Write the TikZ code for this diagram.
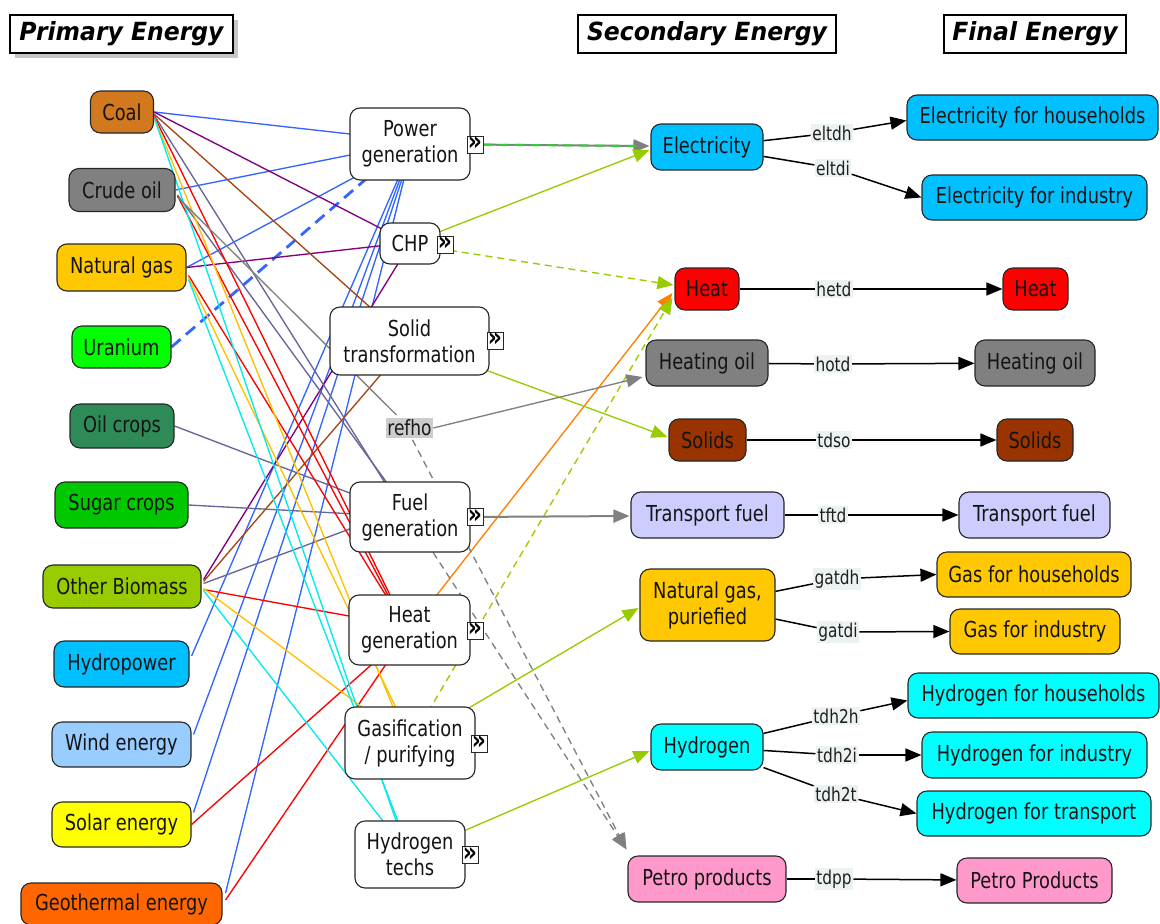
\documentclass[tikz,border=0pt]{standalone}
\usepackage{fontspec}
\setmainfont[FakeStretch=0.81]{DejaVu Sans}
\newfontfamily\hdrfont[FakeStretch=0.94]{DejaVu Sans}
\usetikzlibrary{arrows.meta,calc,backgrounds,shadows}
\definecolor{cCoal}{RGB}{210,120,30}
\definecolor{cCrude}{RGB}{128,128,128}
\definecolor{cNgas}{RGB}{255,200,0}
\definecolor{cUran}{RGB}{0,255,0}
\definecolor{cOilc}{RGB}{46,139,87}
\definecolor{cSugar}{RGB}{0,200,0}
\definecolor{cObio}{RGB}{153,204,0}
\definecolor{cHydro}{RGB}{0,192,255}
\definecolor{cWind}{RGB}{153,204,255}
\definecolor{cSolar}{RGB}{255,255,0}
\definecolor{cGeo}{RGB}{255,102,0}
\definecolor{cHeatN}{RGB}{255,0,0}
\definecolor{cSolids}{RGB}{153,51,0}
\definecolor{cTfuel}{RGB}{204,204,255}
\definecolor{cHyd}{RGB}{0,255,255}
\definecolor{cPetro}{RGB}{255,153,204}
\definecolor{cPow}{RGB}{51,102,255}
\definecolor{cChp}{RGB}{128,0,128}
\definecolor{cSol}{RGB}{165,70,20}
\definecolor{cFuel}{RGB}{102,102,153}
\definecolor{cHeatL}{RGB}{255,0,0}
\definecolor{cGas}{RGB}{255,192,0}
\definecolor{cH2}{RGB}{0,235,235}
\definecolor{cRef}{RGB}{128,128,128}
\definecolor{cOut}{RGB}{153,204,0}
\definecolor{cOrange}{RGB}{255,128,0}
\definecolor{cGreen}{RGB}{51,204,51}
\definecolor{lblbg}{RGB}{236,242,242}
\definecolor{refbg}{RGB}{204,204,204}
\tikzset{
  base/.style={draw=black!85, line width=1.1pt, rounded corners=10pt, font=\fontsize{22}{26}\selectfont, inner sep=2pt, text=black!92},
  prim/.style={base, fill=#1},
  proc/.style={base, fill=white, align=center},
  icon/.style={draw=black!85, fill=white, line width=0.9pt, minimum width=16pt, minimum height=17pt, inner sep=0pt, font=\fontsize{27}{27}\selectfont\bfseries},
  lbl/.style={fill=lblbg, inner sep=1.5pt, font=\fontsize{19}{21}\selectfont, text=black!88},
  hdr/.style={draw=black, line width=1.2pt, fill=white, font=\hdrfont\fontsize{25}{28}\selectfont\bfseries\itshape, inner sep=2pt, minimum height=38pt},
  feed/.style={line width=1.35pt},
  fin/.style={draw=black, line width=1.5pt},
  tip/.style={-{Triangle[length=16pt,width=13pt]}},
  dsh/.style={dash pattern=on 7pt off 5pt},
}
\newcommand{\chev}{\raisebox{1.5pt}{»}}
\begin{document}
\begin{tikzpicture}[x=1pt,y=-1pt]
\useasboundingbox (0,0) rectangle (1160,924);
% headers
\node[hdr, drop shadow={shadow xshift=5pt, shadow yshift=-5pt, fill=black!22, opacity=1}, minimum width=223pt] (hp) at (121.5,34) {Primary Energy};
\node[hdr, minimum width=258pt] (hs) at (707,34) {Secondary Energy};
\node[hdr, minimum width=182pt] (hf) at (1035,34) {Final Energy};
% primary
\node[prim=cCoal, minimum width=63pt, minimum height=42pt] (coal) at (122,112) {Coal};
\node[prim=cCrude, minimum width=106pt, minimum height=43pt] (crude) at (122,190) {Crude oil};
\node[prim=cNgas, minimum width=129pt, minimum height=47pt] (ngas) at (121.5,267.5) {Natural gas};
\node[prim=cUran, minimum width=99pt, minimum height=42pt] (uran) at (121.5,347) {Uranium};
\node[prim=cOilc, minimum width=104pt, minimum height=44pt] (oilc) at (122,426) {Oil crops};
\node[prim=cSugar, minimum width=133pt, minimum height=46pt] (sugar) at (121.5,505) {Sugar crops};
\node[prim=cObio, minimum width=158pt, minimum height=43pt] (obio) at (122,586.5) {Other Biomass};
\node[prim=cHydro, minimum width=135pt, minimum height=46pt] (hydro) at (121.5,664) {Hydropower};
\node[prim=cWind, minimum width=139pt, minimum height=45pt] (wind) at (121.5,744.5) {Wind energy};
\node[prim=cSolar, minimum width=139pt, minimum height=45pt] (solar) at (121.5,824.5) {Solar energy};
\node[prim=cGeo, minimum width=201pt, minimum height=42pt] (geo) at (121.5,904) {Geothermal energy};
% processes
\node[proc, minimum width=120pt, minimum height=72pt] (pgen) at (410,144) {Power\\generation};
\node[proc, minimum width=60pt, minimum height=41pt] (chp) at (410,243.5) {CHP};
\node[proc, minimum width=159pt, minimum height=68pt] (solid) at (409.5,341) {Solid\\transformation};
\node[proc, minimum width=120pt, minimum height=70pt] (fuel) at (410,517) {Fuel\\generation};
\node[proc, minimum width=121pt, minimum height=70pt] (heatg) at (409.5,630) {Heat\\generation};
\node[proc, minimum width=130pt, minimum height=72pt] (gasif) at (410,743) {Gasification\\/ purifying};
\node[proc, minimum width=110pt, minimum height=67pt] (htech) at (410,854.5) {Hydrogen\\techs};
\node[icon] (i1) at (475,144.5) {\chev};
\node[icon] (i2) at (445,244.5) {\chev};
\node[icon] (i3) at (495,340.5) {\chev};
\node[icon] (i4) at (475,517) {\chev};
\node[icon] (i5) at (475,630.5) {\chev};
\node[icon] (i6) at (479,743.5) {\chev};
\node[icon] (i7) at (470,855) {\chev};
\node[fill=refbg, inner sep=1.5pt, font=\fontsize{21}{23}\selectfont, text=black!90] (refho) at (409.5,428) {refho};
% secondary
\node[prim=cHydro, minimum width=112pt, minimum height=46pt] (elec) at (707,147) {Electricity};
\node[prim=cHeatN, minimum width=64pt, minimum height=42pt] (heatS) at (707,289) {Heat};
\node[prim=cCrude, minimum width=122pt, minimum height=46pt] (hoil) at (707,363) {Heating oil};
\node[prim=cSolids, minimum width=77pt, minimum height=42pt] (solidsS) at (707.5,440) {Solids};
\node[prim=cTfuel, minimum width=153pt, minimum height=46pt] (tfuel) at (707.5,515) {Transport fuel};
\node[prim=cNgas, minimum width=135pt, minimum height=72pt, align=center] (ngp) at (707.5,605) {Natural gas,\\puriefied};
\node[prim=cHyd, minimum width=112pt, minimum height=46pt] (hyd) at (707,747) {Hydrogen};
\node[prim=cPetro, minimum width=158pt, minimum height=46pt] (petro) at (707,879) {Petro products};
% final
\node[prim=cHydro, minimum width=251pt, minimum height=45pt] (efh) at (1032.5,117.5) {Electricity for households};
\node[prim=cHydro, minimum width=225pt, minimum height=45pt] (efi) at (1034.5,197.5) {Electricity for industry};
\node[prim=cHeatN, minimum width=65pt, minimum height=42pt] (heatF) at (1035.5,289) {Heat};
\node[prim=cCrude, minimum width=120pt, minimum height=46pt] (hoilF) at (1035,363) {Heating oil};
\node[prim=cSolids, minimum width=76pt, minimum height=42pt] (solidsF) at (1035,440) {Solids};
\node[prim=cTfuel, minimum width=151pt, minimum height=46pt] (tfuelF) at (1034.5,515) {Transport fuel};
\node[prim=cNgas, minimum width=194pt, minimum height=45pt] (gfh) at (1034,574.5) {Gas for households};
\node[prim=cNgas, minimum width=170pt, minimum height=45pt] (gfi) at (1035,631.5) {Gas for industry};
\node[prim=cHyd, minimum width=251pt, minimum height=45pt] (hfh) at (1033.5,695.5) {Hydrogen for households};
\node[prim=cHyd, minimum width=225pt, minimum height=46pt] (hfi) at (1034.5,755) {Hydrogen for industry};
\node[prim=cHyd, minimum width=234pt, minimum height=45pt] (hft) at (1034,813.5) {Hydrogen for transport};
\node[prim=cPetro, minimum width=155pt, minimum height=45pt] (petroF) at (1034.5,880.5) {Petro Products};
% labels
\node[lbl] (l1) at (832,133) {eltdh};
\node[lbl] (l2) at (833,168) {eltdi};
\node[lbl] (l3) at (834,289) {hetd};
\node[lbl] (l4) at (833,364) {hotd};
\node[lbl] (l5) at (834,440) {tdso};
\node[lbl] (l6) at (833,515) {tftd};
\node[lbl] (l7) at (837,579) {gatdh};
\node[lbl] (l8) at (838,632) {gatdi};
\node[lbl] (l9) at (836,716) {tdh2h};
\node[lbl] (l10) at (837,755) {tdh2i};
\node[lbl] (l11) at (836,794) {tdh2t};
\node[lbl] (l12) at (834,879) {tdpp};
\coordinate (pend) at ($(petro.north west)+(-1,-6)$);
% final edges
\draw[fin] (elec) -- (l1); \draw[fin,tip] (l1) -- ($(efh.west)+(0,3)$);
\draw[fin] (elec) -- (l2); \draw[fin,tip] (l2) -- (efi.west);
\draw[fin] (heatS) -- (l3); \draw[fin,tip] (l3) -- (heatF);
\draw[fin] (hoil) -- (l4); \draw[fin,tip] (l4) -- (hoilF);
\draw[fin] (solidsS) -- (l5); \draw[fin,tip] (l5) -- (solidsF);
\draw[fin] (tfuel) -- (l6); \draw[fin,tip] (l6) -- (tfuelF);
\draw[fin] (ngp) -- (l7); \draw[fin,tip] (l7) -- (gfh.west);
\draw[fin] (ngp) -- (l8); \draw[fin,tip] (l8) -- (gfi.west);
\draw[fin] (hyd) -- (l9); \draw[fin,tip] (l9) -- ($(hfh.west)+(0,5)$);
\draw[fin] (hyd) -- (l10); \draw[fin,tip] (l10) -- (hfi.west);
\draw[fin] (hyd) -- (l11); \draw[fin,tip] (l11) -- (hft.west);
\draw[fin] (petro) -- (l12); \draw[fin,tip] (l12) -- (petroF);
\begin{pgfonlayer}{background}
% blue: power generation
\draw[feed,cPow] (coal.east) -- ($(pgen)+(-60,-10)$);
\draw[feed,cPow] (crude.east) -- ($(pgen)+(-60,11)$);
\draw[feed,cPow] (ngas.east) -- ($(pgen)+(-55,33)$);
\draw[cPow, line width=2.8pt, dash pattern=on 12pt off 7pt] (uran.east) -- ($(pgen)+(-37,29)$);
\draw[feed,cPow] ($(hydro.east)+(2,-8)$) -- ($(pgen)+(-12,35)$);
\draw[feed,cPow] ($(wind.east)+(2,-10)$) -- ($(pgen)+(-10,35)$);
\draw[feed,cPow] ($(solar.east)+(2,-12)$) -- ($(pgen)+(-8,35)$);
\draw[feed,cPow] ($(geo.east)+(3,-11)$) -- ($(pgen)+(-6,35)$);
% purple: CHP
\draw[feed,cChp] (coal.east) -- ($(chp)+(-27,-14)$);
\draw[feed,cChp] (ngas.east) -- ($(chp)+(-27,2)$);
\draw[feed,cChp] ($(obio.east)+(2,-7)$) -- ($(chp)+(-10,17)$);
% brown: solid transformation
\draw[feed,cSol] ($(coal.east)+(0,2)$) -- ($(solid)+(-33,-28)$);
\draw[feed,cSol] ($(obio.east)+(2,-5)$) -- ($(solid)+(-23,27)$);
% slate: fuel generation
\draw[feed,cFuel] ($(coal.east)+(0,3)$) -- ($(fuel)+(-23,-31)$);
\draw[feed,cFuel] ($(crude.east)+(2,5)$) -- ($(fuel)+(-20,-30)$);
\draw[feed,cFuel] (oilc.east) -- ($(fuel)+(-55,-22)$);
\draw[feed,cFuel] (sugar.east) -- ($(fuel)+(-55,-3)$);
\draw[feed,cFuel] ($(obio.east)+(2,-3)$) -- ($(fuel)+(-55,10)$);
% red: heat generation
\draw[feed,cHeatL] ($(coal.east)+(0,4)$) -- ($(heatg)+(-18,-32)$);
\draw[feed,cHeatL] ($(crude.east)+(2,6)$) -- ($(heatg)+(-20,-32)$);
\draw[feed,cHeatL] ($(ngas.east)+(2,8)$) -- ($(heatg)+(-22,-32)$);
\draw[feed,cHeatL] ($(obio.east)+(2,3)$) -- ($(heatg)+(-55,-13)$);
\draw[feed,cHeatL] (solar.east) -- ($(heatg)+(-35,32)$);
\draw[feed,cHeatL] ($(geo.east)+(3,-4)$) -- ($(heatg)+(-22,32)$);
% gold: gasification
\draw[feed,cGas] ($(coal.east)+(0,5)$) -- ($(gasif)+(-15,-31)$);
\draw[feed,cGas] ($(ngas.east)+(2,10)$) -- ($(gasif)+(-12,-31)$);
\draw[feed,cGas] ($(obio.east)+(2,2)$) -- ($(gasif)+(-40,-30)$);
% cyan: hydrogen techs
\draw[feed,cH2] ($(coal.east)+(0,5)$) -- ($(htech)+(-12,-28)$);
\draw[feed,cH2] ($(ngas.east)+(2,12)$) -- ($(htech)+(-10,-28)$);
\draw[feed,cH2] ($(obio.east)+(2,4)$) -- ($(htech)+(-22,-27)$);
% gray: refinery
\draw[feed,cRef] ($(crude.east)+(2,7)$) -- ($(refho)+(-13,-13)$);
% outputs
\draw[line width=2pt,cRef,tip] (i1.west) -- ($(elec.west)+(-1,-1)$);
\draw[line width=2pt,cGreen,dash pattern=on 10pt off 6pt] (i1.west) -- ($(elec.west)+(-14,-1)$);
\draw[feed,cOut,tip] ($(chp)+(25,-10)$) -- ($(elec.west)+(-1,3)$);
\draw[feed,cOut,dsh,tip] ($(chp)+(28,5)$) -- ($(heatS.west)+(-1,-4)$);
\draw[feed,cOrange,tip] ($(heatg)+(25,-32)$) -- ($(heatS.west)+(-2,4)$);
\draw[feed,cOut,dsh,tip] ($(gasif)+(18,-31)$) -- ($(heatS.west)+(-2,9)$);
\draw[feed,cOut,tip] ($(solid)+(76,29)$) -- ($(solidsS.west)+(-1,-3)$);
\draw[feed,cRef,tip] (refho.east) -- ($(hoil.west)+(-3,14)$);
\draw[line width=2pt,cRef,tip] (i4.west) -- ($(tfuel.west)+(-1,1)$);
\draw[feed,cOut,tip] ($(gasif)+(52,-31)$) -- ($(ngp.west)+(-1,3)$);
\draw[feed,cOut,tip] ($(htech)+(50,-22)$) -- ($(hyd.west)+(-1,4)$);
\draw[feed,cRef,dsh,tip] ($(refho.south)+(3,2)$) -- (pend);
\draw[feed,cRef,dsh,tip] (fuel) -- (pend);
\end{pgfonlayer}
\end{tikzpicture}
\end{document}
